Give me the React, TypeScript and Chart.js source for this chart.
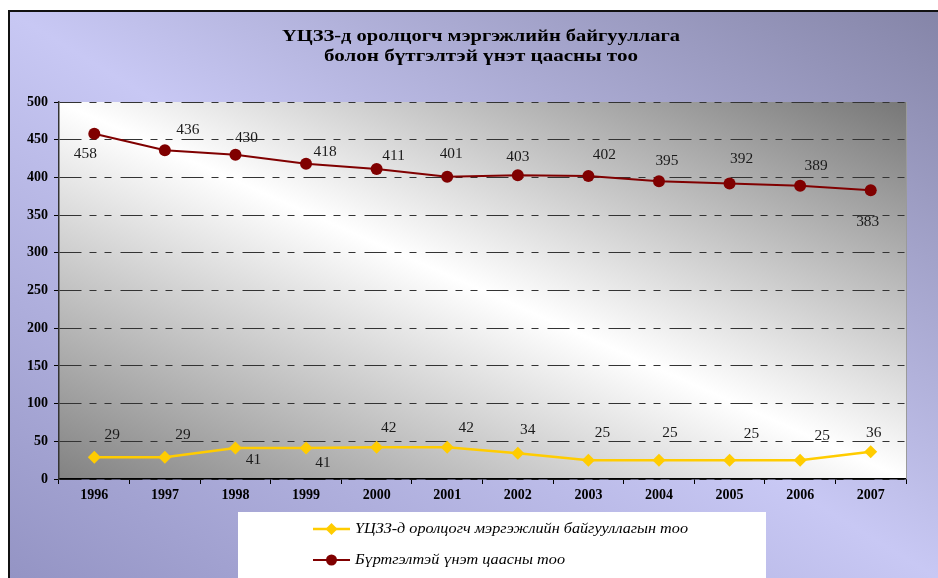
import React, { useEffect, useRef } from 'react';
import { Chart, registerables } from 'chart.js';

Chart.register(...registerables);

const years = ['1996', '1997', '1998', '1999', '2000', '2001', '2002', '2003', '2004', '2005', '2006', '2007'];
const participants = [29, 29, 41, 41, 42, 42, 34, 25, 25, 25, 25, 36];
const securities = [458, 436, 430, 418, 411, 401, 403, 402, 395, 392, 389, 383];
const yMin = 0;
const yMax = 500;
const yStep = 50;
const titleLines = ['ҮЦЗЗ-д оролцогч мэргэжлийн байгууллага', 'болон бүтгэлтэй үнэт цаасны тоо'];
const seriesNames = ['ҮЦЗЗ-д оролцогч мэргэжлийн байгууллагын тоо', 'Бүртгэлтэй үнэт цаасны тоо'];

// data-label placement (pixel offsets from each point)
const participantsLabelDx = [18, 18, 18, 17, 12, 19, 10, 14, 11, 22, 22, 3];
const participantsLabelDy = [-22, -22, 12, 15, -19, -19, -23, -27, -27, -26, -24, -19];
const securitiesLabelDx = [-9, 23, 11, 19, 17, 4, 0, 16, 8, 12, 16, -3];
const securitiesLabelDy = [21, -20, -16, -11, -13, -22, -18, -21, -20, -24, -19, 32];

const SERIF = "'Liberation Serif', 'DejaVu Serif', 'Times New Roman', serif";
const YELLOW = '#ffcc00';
const RED = '#800000';

function diagGradient(ctx: CanvasRenderingContext2D, l: number, t: number, r: number, b: number, stops: [number, string][]) {
  const cx = (l + r) / 2;
  const cy = (t + b) / 2;
  const w = r - l;
  const h = b - t;
  const len = Math.hypot(w, h);
  const nx = h / len;
  const ny = -w / len;
  const d = (w * h) / len;
  const g = ctx.createLinearGradient(cx + nx * d, cy + ny * d, cx - nx * d, cy - ny * d);
  stops.forEach(([o, c]) => g.addColorStop(o, c));
  return g;
}

// draw text stretched horizontally to a given width; anchor 'left' or 'center'
function stretchedText(ctx: CanvasRenderingContext2D, text: string, x: number, y: number, target: number, anchor: 'left' | 'center') {
  const w = ctx.measureText(text).width;
  const k = target / w;
  ctx.save();
  ctx.translate(x, y);
  ctx.scale(k, 1);
  ctx.textAlign = anchor;
  ctx.fillText(text, 0, 0);
  ctx.restore();
}

const decorPlugin = {
  id: 'decor',
  beforeDraw(chart: any) {
    const { ctx, width, height, chartArea } = chart;
    ctx.save();
    ctx.fillStyle = diagGradient(ctx, 0, 0, width, height, [
      [0, '#8585a8'],
      [0.5, '#c8c8f4'],
      [1, '#9494c4'],
    ]);
    ctx.fillRect(0, 0, width, height);
    const { left, top, right, bottom } = chartArea;
    ctx.fillStyle = diagGradient(ctx, left, top, right, bottom, [
      [0, '#777777'],
      [0.5, '#ffffff'],
      [1, '#828282'],
    ]);
    ctx.fillRect(left, top, right - left, bottom - top);

    // title
    ctx.fillStyle = '#000';
    ctx.font = `bold 16px ${SERIF}`;
    ctx.textBaseline = 'middle';
    stretchedText(ctx, titleLines[0], 471, 25, 398, 'center');
    stretchedText(ctx, titleLines[1], 471, 45, 314, 'center');
    ctx.restore();
  },
  afterDatasetsDraw(chart: any) {
    const { ctx, chartArea } = chart;
    ctx.save();
    // right border of plot
    ctx.strokeStyle = '#9a9a9a';
    ctx.lineWidth = 1;
    ctx.beginPath();
    ctx.moveTo(chartArea.right + 0.5, chartArea.top);
    ctx.lineTo(chartArea.right + 0.5, chartArea.bottom);
    ctx.stroke();

    ctx.fillStyle = '#1a1a1a';
    ctx.font = `14px ${SERIF}`;
    ctx.textAlign = 'center';
    ctx.textBaseline = 'middle';
    const sets = [
      { idx: 0, data: participants, dx: participantsLabelDx, dy: participantsLabelDy },
      { idx: 1, data: securities, dx: securitiesLabelDx, dy: securitiesLabelDy },
    ];
    sets.forEach((s) => {
      const meta = chart.getDatasetMeta(s.idx);
      meta.data.forEach((pt: any, i: number) => {
        const txt = String(s.data[i]);
        const w = ctx.measureText(txt).width;
        stretchedText(ctx, txt, pt.x + s.dx[i], pt.y + s.dy[i], w * 1.1, 'center');
      });
    });

    // legend
    ctx.fillStyle = '#ffffff';
    ctx.fillRect(228, 500, 528, 70);
    const rows = [
      { y: 517, color: YELLOW, style: 'rectRot', r: 6, lw: 2.5, text: seriesNames[0], tw: 333 },
      { y: 548, color: RED, style: 'circle', r: 5.5, lw: 2, text: seriesNames[1], tw: 210 },
    ];
    rows.forEach((row) => {
      ctx.strokeStyle = row.color;
      ctx.lineWidth = row.lw;
      ctx.beginPath();
      ctx.moveTo(303, row.y);
      ctx.lineTo(340, row.y);
      ctx.stroke();
      ctx.fillStyle = row.color;
      ctx.beginPath();
      if (row.style === 'circle') {
        ctx.arc(321.5, row.y, row.r, 0, Math.PI * 2);
      } else {
        ctx.moveTo(321.5, row.y - row.r);
        ctx.lineTo(321.5 + row.r, row.y);
        ctx.lineTo(321.5, row.y + row.r);
        ctx.lineTo(321.5 - row.r, row.y);
        ctx.closePath();
      }
      ctx.fill();
      ctx.fillStyle = '#000';
      ctx.font = `italic 14px ${SERIF}`;
      ctx.textBaseline = 'middle';
      stretchedText(ctx, row.text, 345, row.y, row.tw, 'left');
    });
    ctx.restore();
  },
};

export default function App() {
  const ref = useRef<HTMLCanvasElement | null>(null);
  useEffect(() => {
    if (!ref.current) return;
    const chart = new Chart(ref.current, {
      type: 'line',
      data: {
        labels: years,
        datasets: [
          {
            label: seriesNames[0],
            data: participants,
            borderColor: YELLOW,
            backgroundColor: YELLOW,
            borderWidth: 2.5,
            pointStyle: 'rectRot',
            pointRadius: 6.5,
            pointBorderWidth: 0,
            tension: 0,
          },
          {
            label: seriesNames[1],
            data: securities,
            borderColor: RED,
            backgroundColor: RED,
            borderWidth: 2,
            pointStyle: 'circle',
            pointRadius: 6,
            pointBorderWidth: 0,
            tension: 0,
          },
        ],
      },
      options: {
        animation: false,
        responsive: false,
        devicePixelRatio: 1,
        layout: { padding: { left: 0, top: 90, right: 32, bottom: 69 } },
        plugins: {
          legend: { display: false },
          title: { display: false },
          tooltip: { enabled: false },
        },
        scales: {
          x: {
            offset: true,
            afterFit: (s: any) => {
              s.height = 30;
            },
            grid: {
              offset: true,
              drawOnChartArea: false,
              drawTicks: true,
              tickLength: 5,
              color: '#000',
              tickColor: '#000',
            },
            border: { display: true, color: '#000', width: 1.5 },
            ticks: {
              color: '#000',
              padding: 3,
              font: { family: SERIF, size: 14, weight: 'bold' },
              maxRotation: 0,
            },
          },
          y: {
            min: yMin,
            max: yMax,
            afterFit: (s: any) => {
              s.width = 49;
            },
            grid: {
              color: '#333',
              lineWidth: 1,
              drawTicks: true,
              tickLength: 5,
              tickColor: '#000',
            },
            border: { display: true, color: '#333', width: 1.5, dash: [22, 8, 7, 8, 7, 9] },
            ticks: {
              stepSize: yStep,
              color: '#000',
              padding: 6,
              font: { family: SERIF, size: 14, weight: 'bold' },
            },
          },
        },
      },
      plugins: [decorPlugin],
    } as any);
    return () => chart.destroy();
  }, []);

  return (
    <div
      style={{
        position: 'fixed',
        left: 8,
        top: 10,
        width: 930,
        height: 568,
        overflow: 'hidden',
        borderLeft: '2px solid #111',
        borderTop: '2px solid #111',
        boxSizing: 'border-box',
      }}
    >
      <canvas ref={ref} width={928} height={566} style={{ display: 'block', width: 928, height: 566 }} />
    </div>
  );
}
